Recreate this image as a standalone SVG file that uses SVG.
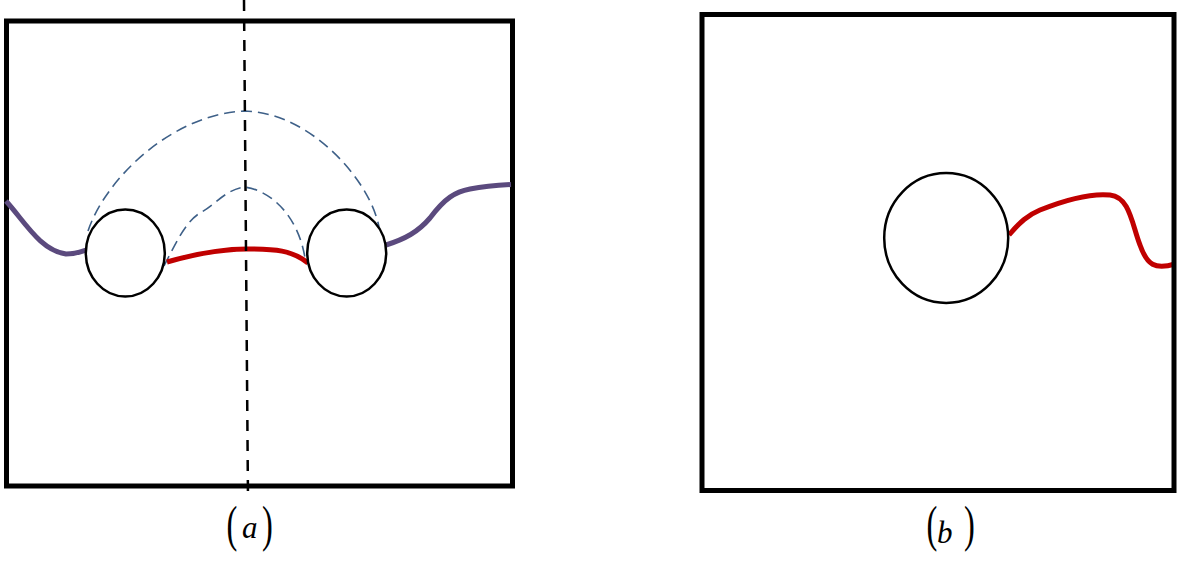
<svg xmlns="http://www.w3.org/2000/svg" width="1177" height="561" viewBox="0 0 1177 561">
<style>
.frame{fill:none;stroke:#000;stroke-width:5;stroke-linejoin:miter}
.hole{fill:#fff;stroke:#000;stroke-width:2.5}
.purple{fill:none;stroke:#5b4a7e;stroke-width:5;stroke-linecap:butt}
.red{fill:none;stroke:#c00000;stroke-width:5;stroke-linecap:butt}
.blue{fill:none;stroke:#3e6088;stroke-width:1.6;stroke-dasharray:11 6}
.axis{fill:none;stroke:#000;stroke-width:2.5;stroke-dasharray:11 9}
.par{font-family:"Liberation Serif",serif;font-size:50px;fill:#000}
.lab{font-family:"Liberation Serif",serif;font-style:italic;font-size:31px;fill:#000}
</style>
<rect width="1177" height="561" fill="#fff"/>
<g id="panel-a">
  <rect class="frame" x="6.5" y="21" width="506" height="465"/>
</g>
<g id="connectors">
  <path class="blue" d="M88,231 C105,180 170,115 244,111 C310,112 370,180 379,227"/>
  <path class="blue" d="M164,266 C175,245 185,222 200,213 C215,205 225,190 244,187 C270,190 298,215 305,258"/>
  <path class="purple" d="M6,201 C25,222 40,250 66,254 C75,254 80,252 86,250"/>
  <path class="purple" d="M386,245 C405,239 418,232 430,218 C445,198 455,192 470,189 C485,186 500,185 511,184.5"/>
  <path class="red" d="M167,262 C195,254 225,249 247,249 C275,249 292,250 308,263"/>
  <path class="red" d="M1009,235 C1020,222 1028,215 1040,210 C1065,200 1090,193 1110,195 C1130,197 1132,225 1140,245 C1147,265 1155,270 1175,264"/>
  <path class="axis" d="M244,0 L248,500"/>
</g>
<g id="hole-a1"><ellipse class="hole" cx="125.3" cy="253" rx="39.5" ry="43.5"/></g>
<g id="hole-a2"><ellipse class="hole" cx="346.7" cy="253" rx="39.5" ry="43.5"/></g>
<g id="panel-b">
  <rect class="frame" x="702" y="14.5" width="472" height="476"/>
</g>
<g id="hole-b"><ellipse class="hole" cx="946.2" cy="238" rx="62" ry="65"/></g>
<g id="label-a">
  <text class="par" transform="translate(226.4,541) scale(0.65,1)">(</text>
  <text class="lab" x="242" y="538">a</text>
  <text class="par" transform="translate(262,541) scale(0.65,1)">)</text>
</g>
<g id="label-b">
  <text class="par" transform="translate(926.4,541) scale(0.65,1)">(</text>
  <text class="lab" x="937" y="543">b</text>
  <text class="par" transform="translate(964,541) scale(0.65,1)">)</text>
</g>
</svg>
